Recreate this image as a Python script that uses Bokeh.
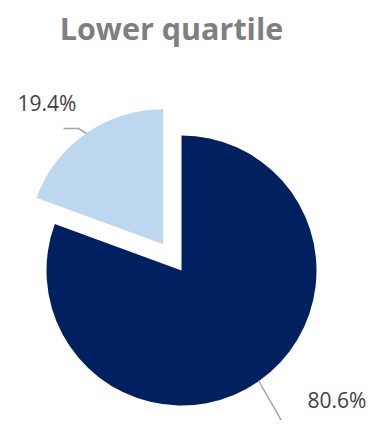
import math
from bokeh.plotting import figure
from bokeh.models import Range1d
from bokeh.core.properties import value
from bokeh.embed import file_html
from bokeh.resources import INLINE

# ---- data ----
categories = ["Lower quartile other", "Lower quartile main"]
labels = ["19.4%", "80.6%"]
values = [19.4, 80.6]
colors = ["#BDD7EE", "#002060"]
title_text = "Lower quartile"

# ---- layout (pixel coords, y measured upward) ----
W, H = 368, 420
def wy(y):
    return H - y

cx, cy = 181, wy(270)
radius = 135
explode = [32, 0]

p = figure(width=W, height=H, output_backend="svg", toolbar_location=None,
           x_range=Range1d(0, W), y_range=Range1d(0, H),
           min_border=0, outline_line_color=None)
p.axis.visible = False
p.grid.visible = False
p.background_fill_color = "white"
p.border_fill_color = "white"

total = sum(values)
start = 90.0
for v, c, ex in zip(values, colors, explode):
    sweep = v / total * 360.0
    a0 = start
    a1 = start + sweep
    mid = math.radians((a0 + a1) / 2)
    x0 = cx + ex * math.cos(mid)
    y0 = cy + ex * math.sin(mid)
    p.wedge(x=[x0], y=[y0], radius=radius, start_angle=[math.radians(a0)],
            end_angle=[math.radians(a1)], color=c, line_color=None)
    start = a1

# leader lines
p.line(x=[63, 78, 86], y=[wy(128), wy(128), wy(133)], line_color="#A6A6A6", line_width=1.5)
p.line(x=[258, 282, 293], y=[wy(380), wy(422), wy(422)], line_color="#A6A6A6", line_width=1.5)

# data labels
p.text(x=[17, 307], y=[wy(102), wy(399)], text=labels,
       text_font=value("Open Sans"), text_font_size="21px", text_color="#404040",
       text_baseline="middle", text_align="left")

# title
p.text(x=[171], y=[wy(27)], text=[title_text], text_font=value("Open Sans"),
       text_font_style="bold", text_font_size="30.5px", text_color="#7F7F7F",
       text_align="center", text_baseline="middle")

open("out.html", "w").write(file_html(p, INLINE))
